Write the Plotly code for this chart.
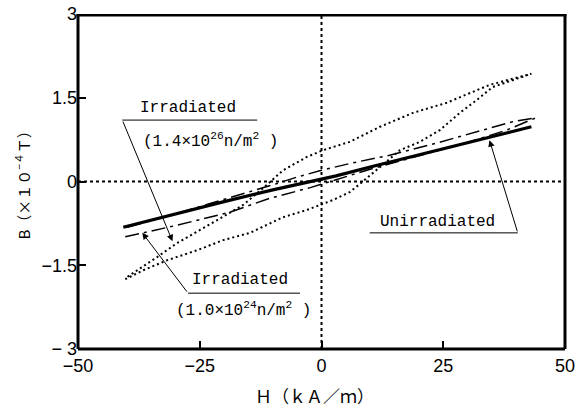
import plotly.graph_objects as go

# ---------------- data ----------------
unirr_H = [-40.7, -30, -20, -10, -3, 0, 3, 10, 20, 30, 43.1]
unirr_B = [-0.82, -0.58, -0.36, -0.15, -0.01, 0.05, 0.10, 0.26, 0.48, 0.70, 0.98]

irr24_H = [-40.3, -30, -18.8, -10.6, -2.3, 5, 10, 20, 30, 38, 44.0,
           39.2, 35.5, 29.8, 23.7, 14.0, 6.2, 0, -5, -10, -20, -30, -40.3]
irr24_B = [-0.99, -0.79, -0.55, -0.30, -0.11, 0.08, 0.22, 0.46, 0.70, 0.92, 1.14,
           1.07, 0.98, 0.83, 0.69, 0.47, 0.33, 0.20, 0.08, -0.06, -0.32, -0.58, -0.83]

irr26_H = [-40.3, -36.6, -31.7, -25.5, -20.2, -14.7, -7.9, -3.0, 2.4, 5.8, 8.9,
           16.1, 20.2, 24.3, 28.4, 31.9, 35.1, 43.1,
           34.5, 25.7, 18.8, 12.0, 5.8, 0.3, -3.0, -7.9, -12.0, -16.1, -21.4, -29.6, -33.7, -39.9]
irr26_B = [-1.75, -1.59, -1.41, -1.23, -1.05, -0.92, -0.64, -0.51, -0.33, -0.19, 0.03,
           0.56, 0.71, 0.92, 1.23, 1.46, 1.69, 1.93,
           1.73, 1.41, 1.23, 0.98, 0.71, 0.56, 0.44, 0.20, -0.12, -0.42, -0.69, -1.10, -1.35, -1.71]

x_ticks = [-50, -25, 0, 25, 50]
x_ticktext = ["\u221250", "\u221225", "0", "25", "50"]
y_ticks = [-3, -1.5, 0, 1.5, 3]
y_ticktext = ["\u2212 3", "\u22121.5", "0", "1.5", "3"]

fig = go.Figure()
fig.add_trace(go.Scatter(x=irr26_H, y=irr26_B, mode="lines",
                         line=dict(color="black", width=2, dash="2px,3px"),
                         showlegend=False, hoverinfo="skip"))
fig.add_trace(go.Scatter(x=irr24_H, y=irr24_B, mode="lines",
                         line=dict(color="black", width=1.5, dash="14px,5px,3px,5px"),
                         showlegend=False, hoverinfo="skip"))
fig.add_trace(go.Scatter(x=unirr_H, y=unirr_B, mode="lines",
                         line=dict(color="black", width=3.2),
                         showlegend=False, hoverinfo="skip"))

shapes = [
    dict(type="line", xref="x", yref="y", x0=-50, x1=50, y0=0, y1=0,
         line=dict(color="black", width=2, dash="dot"), layer="below"),
    dict(type="line", xref="x", yref="y", x0=0, x1=0, y0=-3, y1=3,
         line=dict(color="black", width=2, dash="dot"), layer="below"),
    # plot frame (left, right, bottom, top drawn separately)
    dict(type="line", xref="paper", yref="paper", x0=0, x1=0, y0=0, y1=1,
         line=dict(color="black", width=3)),
    dict(type="line", xref="paper", yref="paper", x0=1, x1=1, y0=0, y1=1,
         line=dict(color="black", width=3)),
    dict(type="line", xref="paper", yref="paper", x0=0, x1=1, y0=0, y1=0,
         line=dict(color="black", width=3)),
    dict(type="line", xref="paper", yref="paper", x0=-0.003, x1=1.003, y0=0.996, y1=0.996,
         line=dict(color="black", width=2.5)),
    # callout underlines
    dict(type="line", xref="x", yref="y", x0=-40.9, x1=-13.2, y0=1.10, y1=1.10,
         line=dict(color="black", width=1)),
    dict(type="line", xref="x", yref="y", x0=-27.4, x1=-4.4, y0=-2.0, y1=-2.0,
         line=dict(color="black", width=1)),
    dict(type="line", xref="x", yref="y", x0=9.9, x1=40.3, y0=-0.92, y1=-0.92,
         line=dict(color="black", width=1)),
]

lab_font = dict(family="Liberation Mono", size=16, color="black")
annotations = [
    dict(x=-27.4, y=1.32, xref="x", yref="y", text="Irradiated", showarrow=False, font=lab_font),
    dict(x=-22.8, y=0.74, xref="x", yref="y",
         text="(1.4\u00d710<sup>26</sup>n/m<sup>2</sup> )", showarrow=False, font=lab_font),
    dict(x=-16.7, y=-1.77, xref="x", yref="y", text="Irradiated", showarrow=False, font=lab_font),
    dict(x=-16.1, y=-2.30, xref="x", yref="y",
         text="(1.0\u00d710<sup>24</sup>n/m<sup>2</sup> )", showarrow=False, font=lab_font),
    dict(x=23.9, y=-0.73, xref="x", yref="y", text="Unirradiated", showarrow=False, font=lab_font),
    dict(x=-30.6, y=-1.07, ax=-40.9, ay=1.10, xref="x", yref="y", axref="x", ayref="y",
         text="", showarrow=True, arrowhead=2, arrowsize=1.3, arrowwidth=1, arrowcolor="black"),
    dict(x=-36.8, y=-0.92, ax=-27.4, ay=-2.0, xref="x", yref="y", axref="x", ayref="y",
         text="", showarrow=True, arrowhead=2, arrowsize=1.3, arrowwidth=1, arrowcolor="black"),
    dict(x=34.5, y=0.74, ax=40.3, ay=-0.92, xref="x", yref="y", axref="x", ayref="y",
         text="", showarrow=True, arrowhead=2, arrowsize=1.3, arrowwidth=1, arrowcolor="black"),
    dict(x=0.485, y=-0.14, xref="paper", yref="paper", xanchor="center", yanchor="middle",
         text="\uff28\uff08\uff4b\uff21\uff0f\uff4d\uff09",
         showarrow=False, font=dict(family="Noto Sans CJK JP", size=17, color="black")),
    dict(x=-0.115, y=0.5, xref="paper", yref="paper", xanchor="center", yanchor="middle",
         text="B\uff08\u00d7\uff11\uff10<sup>\u2212\uff14</sup>\uff34\uff09", textangle=-90,
         showarrow=False, font=dict(family="Noto Sans CJK JP", size=15, color="black")),
]

axis_common = dict(showgrid=False, zeroline=False, showline=False,
                   ticks="inside", ticklen=8,
                   tickwidth=2, tickcolor="black", automargin=False,
                   ticklabeloverflow="allow",
                   tickfont=dict(family="Liberation Sans", size=18, color="black"))

fig.update_layout(
    width=581, height=409,
    margin=dict(l=78, r=16, t=14, b=60, autoexpand=False),
    paper_bgcolor="white", plot_bgcolor="white",
    xaxis=dict(range=[-50, 50], tickvals=x_ticks, ticktext=x_ticktext,
               ticklabelstandoff=4, **axis_common),
    yaxis=dict(range=[-3, 3], tickvals=y_ticks, ticktext=y_ticktext,
               ticklabelstandoff=0, **axis_common),
    shapes=shapes, annotations=annotations, showlegend=False,
)

fig.write_html("out.html", config={"displayModeBar": False},
               post_script="document.body.style.margin='0';document.body.style.overflow='hidden';")
